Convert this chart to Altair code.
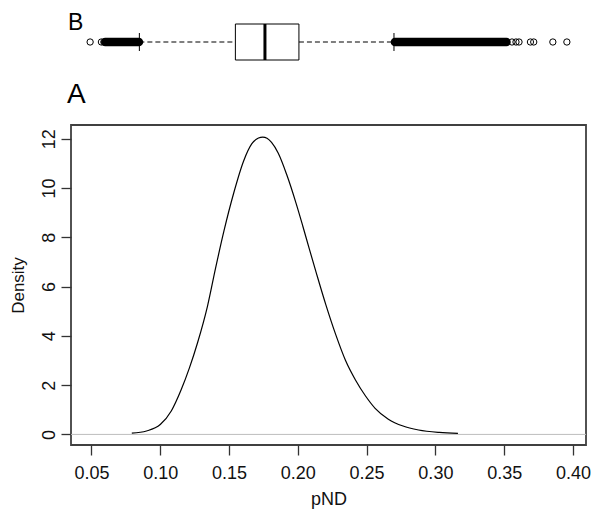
import altair as alt
import pandas as pd

# ---- data ----
pnd_x = [0.0793, 0.0900, 0.1000, 0.1080, 0.1151, 0.1212, 0.1271, 0.1343, 0.1402,
         0.1463, 0.1534, 0.1606, 0.1666, 0.1714, 0.1745, 0.1776, 0.1809, 0.1857,
         0.1917, 0.1988, 0.2037, 0.2084, 0.2132, 0.2204, 0.2275, 0.2347, 0.2419,
         0.2491, 0.2562, 0.2658, 0.2765, 0.2878, 0.3029, 0.3164]
density_y = [0.05, 0.14, 0.40, 0.95, 1.80, 2.70, 3.72, 5.20, 6.75,
             8.26, 9.80, 11.10, 11.80, 12.03, 12.07, 12.02, 11.85, 11.42,
             10.58, 9.37, 8.44, 7.52, 6.60, 5.26, 4.06, 3.00, 2.21,
             1.57, 1.06, 0.62, 0.34, 0.18, 0.08, 0.04]

q1, median, q3 = 0.1546, 0.1761, 0.2008
whisker_lo, whisker_hi = 0.0848, 0.2699
outliers_sparse = [0.0490, 0.0572, 0.0590, 0.3557, 0.3586, 0.3608, 0.3691,
                   0.3715, 0.3854, 0.3956]
dense_start = [0.0600, 0.2706]
dense_end = [0.0845, 0.3517]

x_ticks = [0.05, 0.10, 0.15, 0.20, 0.25, 0.30, 0.35, 0.40]
y_ticks = [0, 2, 4, 6, 8, 10, 12]

FONT = "Liberation Sans"
FS = 18
W, H = 515, 320

# ---- scales / axes ----
xs = alt.Scale(domain=[0.0351, 0.4095], nice=False, zero=False)
ys = alt.Scale(domain=[-0.43, 12.56], nice=False, zero=False)
xaxis = alt.Axis(values=x_ticks, format=".2f", title="pND", grid=False, domain=False,
                 tickSize=10, tickColor="#333", tickWidth=1.3, labelPadding=9,
                 labelFontSize=FS, labelFont=FONT, labelColor="#111",
                 titleFontSize=FS, titleFont=FONT, titleFontWeight="normal",
                 titleColor="#111", titleX=W / 2, titleY=59, titleBaseline="alphabetic",
                 titleAlign="center")
yaxis = alt.Axis(values=y_ticks, format="d", title="Density", grid=False, domain=False,
                 tickSize=10, tickColor="#333", tickWidth=1.3, labelPadding=3,
                 labelAngle=270, labelAlign="center", labelBaseline="bottom",
                 labelFontSize=FS, labelFont=FONT, labelColor="#111",
                 titleFontSize=17, titleFont=FONT, titleFontWeight="normal",
                 titleColor="#111", titleAngle=270, titleAlign="center",
                 titleBaseline="bottom", titleX=-44, titleY=H / 2)

def X(field="x"):
    return alt.X(f"{field}:Q", scale=xs, axis=xaxis)

dens_df = pd.DataFrame({"x": pnd_x, "d": density_y})
density = alt.Chart(dens_df).mark_line(color="black", strokeWidth=1.2,
                                       interpolate="monotone").encode(
    x=X(), y=alt.Y("d:Q", scale=ys, axis=yaxis))

zero = alt.Chart(pd.DataFrame({"d": [0]})).mark_rule(color="#bebebe", strokeWidth=1).encode(
    y=alt.Y("d:Q", scale=ys, axis=yaxis))

# ---- boxplot (panel B) drawn above the plot frame ----
BY = -83  # centre line of the box, pixels relative to plot top
box_df = pd.DataFrame({"x": [q1], "x2": [q3]})
box = alt.Chart(box_df).mark_rect(fill="white", stroke="black", strokeWidth=1).encode(
    x=X(), x2="x2:Q", y=alt.value(BY - 18), y2=alt.value(BY + 18))

med = alt.Chart(pd.DataFrame({"x": [median]})).mark_rule(color="black", strokeWidth=3).encode(
    x=X(), y=alt.value(BY - 18), y2=alt.value(BY + 18))

whisk_df = pd.DataFrame({"x": [whisker_lo, q3], "x2": [q1, whisker_hi]})
whisk = alt.Chart(whisk_df).mark_rule(color="black", strokeWidth=1.1, strokeDash=[5, 3]).encode(
    x=X(), x2="x2:Q", y=alt.value(BY))

staple = alt.Chart(pd.DataFrame({"x": [whisker_lo, whisker_hi]})).mark_rule(
    color="black", strokeWidth=1).encode(x=X(), y=alt.value(BY - 9), y2=alt.value(BY + 9))

dense = alt.Chart(pd.DataFrame({"x": dense_start, "x2": dense_end})).mark_rule(
    color="black", strokeWidth=8.5, strokeCap="round").encode(
    x=X(), x2="x2:Q", y=alt.value(BY))

outl = alt.Chart(pd.DataFrame({"x": outliers_sparse})).mark_point(
    shape="circle", filled=False, color="black", strokeWidth=1, size=40, opacity=1).encode(
    x=X(), y=alt.value(BY))

lab_a = alt.Chart(pd.DataFrame({"t": ["A"]})).mark_text(
    font=FONT, fontSize=28, align="left", baseline="alphabetic", color="black").encode(
    text="t:N", x=alt.value(-4), y=alt.value(-22))
lab_b = alt.Chart(pd.DataFrame({"t": ["B"]})).mark_text(
    font=FONT, fontSize=23, align="left", baseline="alphabetic", color="black").encode(
    text="t:N", x=alt.value(-3), y=alt.value(-95.5))

chart = alt.layer(zero, density, whisk, staple, dense, outl, box, med, lab_a, lab_b).properties(
    width=W, height=H,
    padding={"left": 63, "top": 117, "right": 6, "bottom": 65},
    autosize=alt.AutoSizeParams(type="none"),
    background="white",
).configure_view(stroke="#404040", strokeWidth=1.8)

chart.save("out.html", embed_options={"renderer": "svg", "actions": False})
